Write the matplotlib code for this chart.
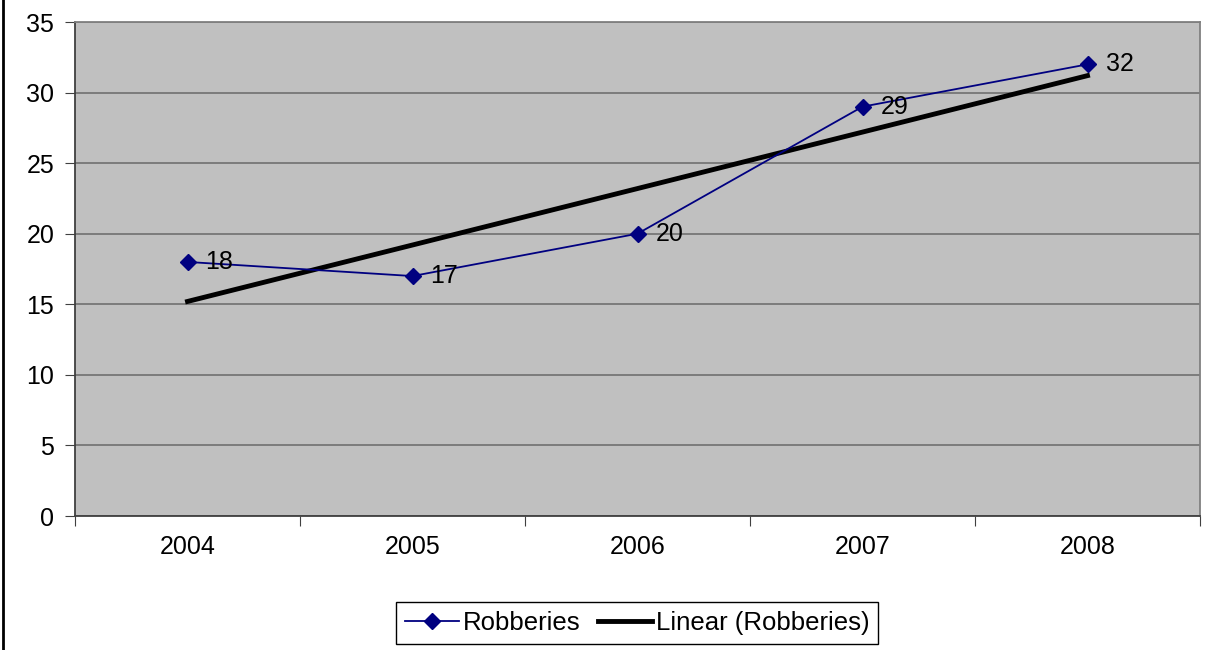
import numpy as np
import matplotlib
matplotlib.use("Agg")
import matplotlib.pyplot as plt
from matplotlib.lines import Line2D

years = ["2004", "2005", "2006", "2007", "2008"]
robberies = [18, 17, 20, 29, 32]
yticks = [0, 5, 10, 15, 20, 25, 30, 35]

plt.rcParams['font.family'] = ['Liberation Sans', 'DejaVu Sans']
FS = 18

W, H = 1207, 650
fig = plt.figure(figsize=(W / 100, H / 100), dpi=100)
ax = fig.add_axes([75 / W, (H - 516) / H, 1125 / W, 494 / H])
ax.set_facecolor('#C0C0C0')

x = np.arange(len(years))
ax.plot(x, robberies, color='#000080', lw=1.3, marker='D', markersize=8,
        label='Robberies', zorder=4)
coef = np.polyfit(x, robberies, 1)
ax.plot(x, np.polyval(coef, x), color='black', lw=3.5,
        label='Linear (Robberies)', zorder=3)

for xi, yi in zip(x, robberies):
    ax.annotate(str(yi), (xi, yi), xytext=(13, 0), textcoords='offset points',
                va='center', ha='left', fontsize=FS, color='black', zorder=5)

ax.set_xlim(-0.5, len(years) - 0.5)
ax.set_ylim(0, 35)
ax.set_yticks(yticks)
ax.set_yticklabels([str(t) for t in yticks], fontsize=FS)
ax.yaxis.grid(True, color='#707070', lw=1.2)
ax.set_axisbelow(True)

ax.set_xticks(np.arange(-0.5, len(years), 1.0))
ax.set_xticklabels([])
ax.set_xticks(x, minor=True)
ax.set_xticklabels(years, minor=True, fontsize=FS)
ax.tick_params(axis='x', which='minor', length=0, pad=14)
ax.tick_params(axis='x', which='major', length=7, color='#404040', direction='out')
ax.tick_params(axis='y', length=7, color='#404040', direction='out', pad=8)

for s in ['left', 'bottom']:
    ax.spines[s].set_color('#404040')
    ax.spines[s].set_linewidth(1.3)
for s in ['top', 'right']:
    ax.spines[s].set_color('#808080')
    ax.spines[s].set_linewidth(1.3)

leg = fig.legend(loc='lower center', bbox_to_anchor=(637 / W, 6 / H), ncol=2,
                 fontsize=18.5, frameon=True, fancybox=False, framealpha=1,
                 edgecolor='black', handlelength=2.1, handletextpad=0.15,
                 columnspacing=0.7, borderpad=0.35, borderaxespad=0)
leg.get_frame().set_linewidth(1.0)

fig.add_artist(Line2D([2.5 / W, 2.5 / W], [0, 1], color='black', lw=2,
                      transform=fig.transFigure))

fig.savefig('out.png', dpi=100)
